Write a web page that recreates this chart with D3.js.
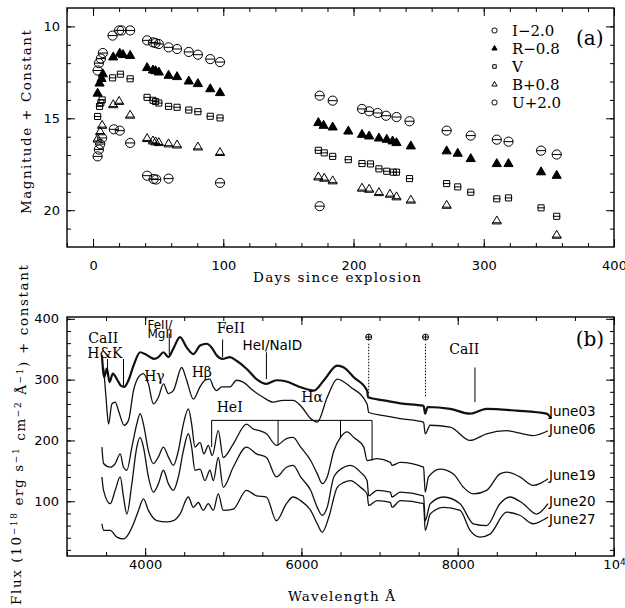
<!DOCTYPE html>
<html>
  <head>
    <meta charset="utf-8">
    <title></title>
  </head>
  <body>
  <style media="screen">
    body { margin:0; background:#fff; }
    svg { display:block; }
    .frame { fill:none; stroke:#000; stroke-width:1.4; }
    .tick line { stroke:#000; stroke-width:1; }
    .tick text { font-family:"DejaVu Sans"; font-size:13px; fill:#000; }
    .title { font-family:"DejaVu Serif"; font-size:13.5px; }
    .serif { font-family:"DejaVu Serif"; }
    .sans { font-family:"DejaVu Sans"; }
    .spec { fill:none; stroke:#111; stroke-linejoin:round; }
  </style>

<svg id="chart" width="625" height="608"></svg>

<script src="https://d3js.org/d3.v7.min.js"></script>
<script type="text/javascript">
// ---- panel (a): light curves, [day, magnitude + constant]
var bandI = [[3.5,12.4],[4.5,12.0],[6,11.75],[7.5,11.45],[15,10.5],[20,10.22],[22,10.22],[28.5,10.22],
  [41.5,10.76],[46,10.87],[48,10.91],[50.5,10.96],[58,11.14],[64.5,11.23],[73.5,11.39],[80.5,11.54],[90,11.78],[97.5,11.94],
  [174,13.77],[184,14.04],[206.5,14.49],[212,14.62],[218.5,14.71],[225,14.86],[233,14.93],[243,15.16],
  [271.5,15.67],[290,15.94],[310,16.16],[319,16.27],[344,16.76],[356,16.97]];
var bandR = [[3.5,13.65],[5,13.1],[6.5,12.85],[7.5,12.6],[15.5,11.68],[20.5,11.48],[23,11.55],[28.5,11.6],
  [41.5,12.26],[46,12.39],[48,12.43],[50.5,12.5],[58,12.68],[64.5,12.75],[73.5,12.99],[80.5,13.13],[90,13.41],[97.5,13.62],
  [173,15.25],[177,15.4],[184,15.49],[196,15.71],[206.5,15.89],[212,15.98],[219.5,16.09],[225.5,16.16],[230,16.25],[233,16.34],
  [244,16.52],[271.5,16.79],[280,16.92],[290,17.21],[310,17.48],[319,17.48],[344,17.93],[356,18.12]];
var bandV = [[3.5,14.9],[5,14.35],[6,14.15],[7,14.0],[15,12.8],[21,12.6],[28.5,12.85],
  [41.5,13.86],[46,14.02],[48,14.09],[50.5,14.17],[58,14.35],[64.5,14.4],[73.5,14.55],[80.5,14.64],[90,14.89],[97.5,14.98],
  [173,16.74],[177.5,16.88],[184,17.07],[196,17.25],[206.5,17.46],[213,17.48],[219.5,17.75],[225.5,17.88],[230.5,17.93],[233,17.93],
  [243,18.28],[271.5,18.55],[280,18.73],[290,19.02],[310,19.38],[319,19.33],[344,19.87],[356,20.33]];
var bandB = [[3.5,16.15],[5.5,15.75],[7,15.4],[15.5,14.28],[20,14.1],[28.5,14.85],
  [41.5,16.12],[46,16.25],[48,16.3],[50.5,16.34],[58,16.41],[64.5,16.47],[80.5,16.58],[97.5,16.88],
  [173,18.21],[177.5,18.28],[184,18.42],[206.5,18.82],[212,18.88],[219.5,19.06],[228,19.15],[233,19.29],[244,19.47],
  [271.5,19.75],[310,20.6],[356,21.38]];
var bandU = [[3.5,17.07],[4.5,16.7],[5.5,16.4],[7,16.07],[16,15.6],[20.5,15.67],[28.5,16.34],
  [41.5,18.12],[46.5,18.3],[48.5,18.33],[58,18.28],[97.5,18.51],[174,19.78]];
var bandLabels = ['I\u22122.0','R\u22120.8','V','B+0.8','U+2.0'];
var bandShapes = ['circle','filledTriangle','square','triangle','circle'];

// ---- panel (b): spectra, [wavelength A, flux + constant]
var june03 = [[3447,340],[3476,304],[3510,318],[3545,296],[3587,310],[3638,301],[3689,290],[3732,288],[3787,299],[3851,323],
  [3936,345],[4000,342],[4064,337],[4115,334],[4170,337],[4234,345],[4297,337],[4361,351],[4446,370],[4531,353],[4617,342],
  [4702,356],[4787,359],[4850,353],[4914,340],[4991,334],[5084,337],[5170,331],[5297,318],[5425,301],[5552,293],[5680,299],
  [5808,297],[5978,288],[6160,282],[6288,299],[6458,323],[6543,320],[6670,304],[6840,282],[6853,271],[7053,266],[7265,261],
  [7563,257],[7584,244],[7614,255],[7903,252],[8158,244],[8370,252],[8753,249],[9135,244],[9199,236]];
var june06 = [[3468,320],[3502,266],[3532,227],[3574,260],[3617,263],[3659,249],[3732,225],[3787,233],[3851,282],[3915,304],
  [3978,310],[4042,293],[4106,260],[4170,271],[4234,293],[4297,277],[4361,282],[4468,320],[4531,299],[4617,268],[4702,288],
  [4765,299],[4829,301],[4872,288],[4914,282],[4978,288],[5084,288],[5170,299],[5255,296],[5382,282],[5510,271],[5638,263],
  [5765,266],[5893,266],[5990,257],[6118,236],[6203,230],[6330,271],[6458,301],[6628,288],[6840,260],[6861,246],[7053,241],
  [7265,236],[7563,230],[7584,211],[7648,225],[7903,222],[8158,200],[8370,211],[8625,216],[8965,208],[9156,216]];
var june19 = [[3447,189],[3468,162],[3553,156],[3617,162],[3681,178],[3723,156],[3766,151],[3830,189],[3893,227],[3936,244],
  [3978,227],[4042,183],[4106,162],[4170,173],[4234,189],[4297,173],[4361,159],[4425,183],[4489,227],[4553,252],[4595,227],
  [4638,189],[4702,197],[4753,178],[4808,192],[4859,175],[4936,216],[4999,172],[5127,194],[5297,227],[5382,219],[5467,216],
  [5552,211],[5680,192],[5808,203],[5893,205],[5990,189],[6118,167],[6203,145],[6266,129],[6330,140],[6415,183],[6500,205],
  [6585,214],[6670,205],[6798,189],[6840,167],[6968,170],[7138,164],[7159,159],[7265,164],[7563,156],[7584,115],[7626,140],
  [7775,153],[7945,145],[8073,123],[8200,112],[8370,118],[8540,145],[8625,148],[8795,140],[8965,126],[9050,129],[9156,137]];
var june20 = [[3447,140],[3468,118],[3553,96],[3617,118],[3681,140],[3723,107],[3766,79],[3830,129],[3893,189],[3936,205],
  [3978,189],[4042,140],[4106,115],[4170,129],[4234,151],[4297,129],[4361,118],[4425,140],[4489,183],[4553,211],[4595,189],
  [4638,151],[4702,153],[4765,134],[4829,151],[4872,134],[4936,172],[4999,123],[5127,156],[5297,189],[5425,178],[5552,172],
  [5680,140],[5808,156],[5893,159],[5990,140],[6118,118],[6203,90],[6266,77],[6330,90],[6415,140],[6543,156],[6628,159],
  [6755,148],[6840,134],[6861,109],[6968,118],[7138,115],[7159,107],[7265,115],[7563,109],[7584,68],[7648,96],[7818,107],
  [8030,96],[8200,63],[8370,60],[8540,96],[8668,107],[8838,96],[9008,79],[9156,96]];
var june27 = [[3447,63],[3468,52],[3553,52],[3638,41],[3723,38],[3787,46],[3851,63],[3915,85],[3978,104],[4042,85],[4149,68],
  [4276,66],[4361,68],[4446,79],[4553,107],[4617,90],[4680,98],[4744,85],[4808,96],[4872,85],[4936,112],[4999,85],[5127,87],
  [5297,118],[5425,109],[5552,107],[5680,68],[5808,96],[5893,107],[5990,101],[6118,85],[6203,63],[6266,49],[6351,74],
  [6458,123],[6543,131],[6628,134],[6755,123],[6840,112],[6861,93],[6968,101],[7138,98],[7159,90],[7265,101],[7563,96],
  [7584,52],[7648,79],[7818,90],[8030,85],[8158,52],[8285,41],[8413,46],[8625,82],[8795,77],[8965,63],[9156,74]];
var specNames = ['June03','June06','June19','June20','June27'];
var specLabelFlux = [241,211,135,93,63];

// line identifications: [wavelength, flux top, flux bottom]
var idLines = [[3519,334,310],[3723,334,290],[4309,376,340],[4991,366,337],[5552,345,301],[8221,320,263]];
var telluric = [6861,7588];
var heBracket = [[4851,189],[5701,192],[6500,205],[6904,167]];

var svg = d3.select('#chart');

function frame(x, y, xt, yt) {
  var g = svg.append('g');
  var x0 = x.range()[0], x1 = x.range()[1], y0 = y.range()[0], y1 = y.range()[1];
  var bottom = Math.max(y0, y1), top = Math.min(y0, y1);
  g.append('g').attr('class', 'xlab').attr('transform', 'translate(0,' + bottom + ')')
    .call(d3.axisBottom(x).tickValues(xt.major).tickSize(-8).tickPadding(xt.pad).tickFormat(xt.fmt));
  g.append('g').attr('transform', 'translate(0,' + bottom + ')')
    .call(d3.axisBottom(x).tickValues(xt.minor).tickSize(-4).tickFormat(''));
  g.append('g').attr('transform', 'translate(0,' + top + ')')
    .call(d3.axisTop(x).tickValues(xt.major).tickSize(-8).tickFormat(''));
  g.append('g').attr('transform', 'translate(0,' + top + ')')
    .call(d3.axisTop(x).tickValues(xt.minor).tickSize(-4).tickFormat(''));
  g.append('g').attr('transform', 'translate(' + x0 + ',0)')
    .call(d3.axisLeft(y).tickValues(yt.major).tickSize(-8).tickPadding(yt.pad).tickFormat(d3.format('d')));
  g.append('g').attr('transform', 'translate(' + x0 + ',0)')
    .call(d3.axisLeft(y).tickValues(yt.minor).tickSize(-4).tickFormat(''));
  g.append('g').attr('transform', 'translate(' + x1 + ',0)')
    .call(d3.axisRight(y).tickValues(yt.major).tickSize(-8).tickFormat(''));
  g.append('g').attr('transform', 'translate(' + x1 + ',0)')
    .call(d3.axisRight(y).tickValues(yt.minor).tickSize(-4).tickFormat(''));
  g.selectAll('.domain').remove();
  g.append('rect').attr('class', 'frame')
    .attr('x', x0).attr('y', top).attr('width', x1 - x0).attr('height', bottom - top);
  return g;
}

// ================= panel (a)
var xa = d3.scaleLinear().domain([-20, 400]).range([67, 614]);
var ya = d3.scaleLinear().domain([9, 22]).range([8, 247]);

frame(xa, ya,
  {major: d3.range(0, 401, 100), minor: d3.range(-20, 401, 20), pad: 14, fmt: d3.format('d')},
  {major: [10, 15, 20], minor: d3.range(10, 22, 1), pad: 7});

function drawSymbol(g, shape, cx, cy, s, bar) {
  if (shape == 'circle') {
    g.append('circle').attr('cx', cx).attr('cy', cy).attr('r', s)
      .attr('fill', 'none').attr('stroke', '#000').attr('stroke-width', 1);
  } else {
    var type = shape == 'square' ? d3.symbolSquare : d3.symbolTriangle;
    var size = shape == 'square' ? Math.pow(s * 1.6, 2) : Math.pow(s * 2, 2) * 0.433;
    g.append('path').attr('d', d3.symbol().type(type).size(size)())
      .attr('transform', 'translate(' + cx + ',' + cy + ')')
      .attr('fill', shape == 'filledTriangle' ? '#000' : 'none')
      .attr('stroke', '#000').attr('stroke-width', 1);
  }
  if (bar && shape != 'filledTriangle') {
    g.append('line').attr('x1', cx - s).attr('x2', cx + s)
      .attr('y1', cy + (shape == 'triangle' ? 1.5 : 0)).attr('y2', cy + (shape == 'triangle' ? 1.5 : 0))
      .attr('stroke', '#000').attr('stroke-width', 1);
  }
}

var bands = [bandI, bandR, bandV, bandB, bandU];
var gpts = svg.append('g');
bands.forEach(function(pts, i) {
  pts.forEach(function(d) {
    drawSymbol(gpts, bandShapes[i], xa(d[0]), ya(d[1]), bandShapes[i] == 'square' ? 3.8 : 4.6, true);
  });
});

// legend
var leg = svg.append('g');
bandLabels.forEach(function(t, i) {
  var by = 35.5 + i * 18;
  drawSymbol(leg, bandShapes[i], 494.5, by - 5, bandShapes[i] == 'square' ? 2.2 : 2.6, false);
  leg.append('text').attr('class', 'serif').attr('x', 512).attr('y', by)
    .attr('font-size', 15).text(t);
});
svg.append('text').attr('class', 'serif').attr('x', 576).attr('y', 45).attr('font-size', 20).text('(a)');

svg.append('text').attr('class', 'title').attr('x', 253).attr('y', 282)
  .attr('textLength', 168).attr('lengthAdjust', 'spacing').text('Days since explosion');
svg.append('text').attr('class', 'title')
  .attr('transform', 'translate(31,214) rotate(-90)')
  .attr('textLength', 184).attr('lengthAdjust', 'spacing').text('Magnitude + Constant');

// ================= panel (b)
var xb = d3.scaleLinear().domain([3000, 10000]).range([67, 614]);
var yb = d3.scaleLinear().domain([10, 403]).range([556, 317]);

var gb = frame(xb, yb,
  {major: [4000, 6000, 8000, 10000], minor: d3.range(3000, 10001, 500), pad: 4,
   fmt: function(d) { return d == 10000 ? '' : d; }},
  {major: [100, 200, 300, 400], minor: d3.range(20, 401, 20), pad: 8});

gb.select('.xlab').selectAll('.tick').filter(function(d) { return d == 10000; }).select('text')
  .each(function() {
    var t = d3.select(this);
    t.append('tspan').text('10');
    t.append('tspan').attr('dy', '-0.45em').attr('font-size', 9).text('4');
  });

svg.append('clipPath').attr('id', 'clipb').append('rect')
  .attr('x', 67).attr('y', 317).attr('width', 547).attr('height', 239);

var line = d3.line().x(function(d) { return xb(d[0]); }).y(function(d) { return yb(d[1]); })
  .curve(d3.curveMonotoneX);
var spectra = [june03, june06, june19, june20, june27];
svg.append('g').attr('clip-path', 'url(#clipb)')
  .selectAll('path').data(spectra).enter().append('path')
  .attr('class', 'spec')
  .attr('stroke-width', function(d, i) { return i == 0 ? 2.2 : 1.3; })
  .attr('d', line);

specNames.forEach(function(n, i) {
  svg.append('text').attr('class', 'sans').attr('font-size', 13.5)
    .attr('x', xb(9168)).attr('y', yb(specLabelFlux[i])).text(n);
});

// identifications
var ann = svg.append('g').attr('stroke', '#000').attr('stroke-width', 1);
idLines.forEach(function(d) {
  ann.append('line').attr('x1', xb(d[0])).attr('x2', xb(d[0])).attr('y1', yb(d[1])).attr('y2', yb(d[2]));
});
telluric.forEach(function(l, i) {
  ann.append('line').attr('x1', xb(l)).attr('x2', xb(l)).attr('y1', yb(359)).attr('y2', yb(i == 0 ? 277 : 271))
    .attr('stroke-dasharray', '1.5,1.5');
  ann.append('circle').attr('cx', xb(l)).attr('cy', yb(370)).attr('r', 3).attr('fill', 'none');
  ann.append('line').attr('x1', xb(l) - 3).attr('x2', xb(l) + 3).attr('y1', yb(370)).attr('y2', yb(370));
  ann.append('line').attr('x1', xb(l)).attr('x2', xb(l)).attr('y1', yb(370) - 3).attr('y2', yb(370) + 3);
});
ann.append('line').attr('x1', xb(heBracket[0][0])).attr('x2', xb(heBracket[3][0]))
  .attr('y1', yb(233)).attr('y2', yb(233));
heBracket.forEach(function(d) {
  ann.append('line').attr('x1', xb(d[0])).attr('x2', xb(d[0])).attr('y1', yb(233)).attr('y2', yb(d[1]));
});

var labs = [
  ['CaII', 3272, 361, 'serif', 14], ['H&K', 3259, 336, 'serif', 14],
  ['FeII/', 4030, 384, 'sans', 12], ['MgII', 4030, 368, 'sans', 12],
  ['FeII', 4915, 376, 'serif', 14], ['HeI/NaID', 5246, 348, 'sans', 13.5],
  ['H\u03b3', 3987, 297, 'serif', 14], ['H\u03b2', 4595, 305, 'serif', 14],
  ['HeI', 4915, 246, 'serif', 14], ['H\u03b1', 5999, 263, 'serif', 14],
  ['CaII', 7892, 342, 'serif', 14], ['(b)', 9509, 356, 'serif', 20]
];
labs.forEach(function(l) {
  svg.append('text').attr('class', l[3]).attr('font-size', l[4])
    .attr('x', xb(l[1])).attr('y', yb(l[2])).text(l[0]);
});

svg.append('text').attr('class', 'title').attr('x', 288).attr('y', 601)
  .attr('textLength', 107).attr('lengthAdjust', 'spacing').text('Wavelength \u00c5');

var yt = svg.append('text').attr('class', 'title')
  .attr('transform', 'translate(21,605) rotate(-90)')
  .attr('textLength', 340).attr('lengthAdjust', 'spacing');
[['Flux (10', 0], ['\u221218', 1], [' erg s', 0], ['\u22121', 1], [' cm', 0], ['\u22122', 1],
 [' \u00c5', 0], ['\u22121', 1], [') + constant', 0]].forEach(function(p, i, arr) {
  var prev = i > 0 ? arr[i - 1][1] : 0;
  var dy = p[1] && !prev ? '-0.4em' : (!p[1] && prev ? '0.4em' : null);
  yt.append('tspan').attr('dy', dy).attr('font-size', p[1] ? 9 : null).text(p[0]);
});
</script>
  </body>
</html>
